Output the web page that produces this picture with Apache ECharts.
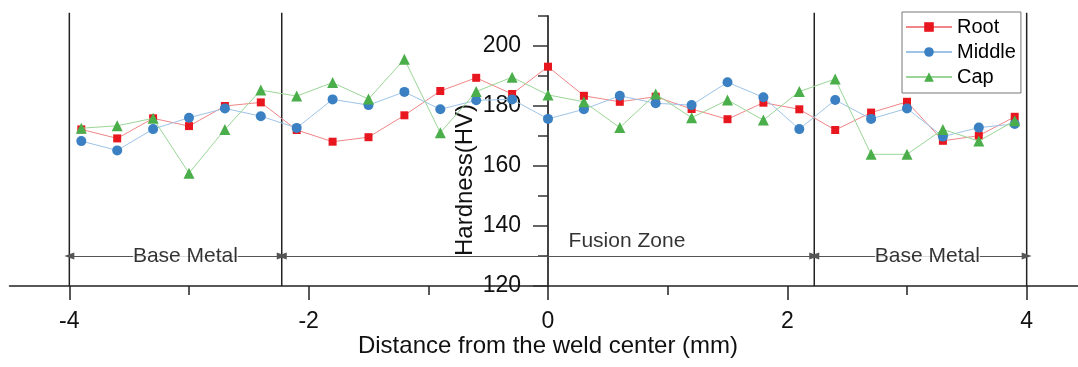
<!DOCTYPE html>
<html>
<head>
<meta charset="utf-8">
<script src="https://cdn.jsdelivr.net/npm/echarts@6/dist/echarts.min.js"></script>
<style>
  html, body { margin: 0; padding: 0; background: #fff; }
  #chart { width: 1078px; height: 367px; }
</style>
</head>
<body>
<div id="chart"></div>
<script>
// Measurement positions across the weld (mm from the weld centre)
const distance = [-3.9, -3.6, -3.3, -3.0, -2.7, -2.4, -2.1, -1.8, -1.5, -1.2, -0.9, -0.6, -0.3, 0,
                  0.3, 0.6, 0.9, 1.2, 1.5, 1.8, 2.1, 2.4, 2.7, 3.0, 3.3, 3.6, 3.9];

// Vickers hardness for each pass
const root   = [172.2, 169.2, 175.9, 173.3, 180.0, 181.2, 172.0, 168.1, 169.6, 176.9, 185.0, 189.4, 184.0, 193.1,
                183.4, 181.4, 183.1, 179.0, 175.6, 181.1, 178.9, 172.0, 177.8, 181.4, 168.4, 170.1, 176.4];
const middle = [168.3, 165.2, 172.3, 176.1, 179.2, 176.6, 172.7, 182.2, 180.3, 184.7, 178.9, 181.9, 182.2, 175.7,
                178.9, 183.4, 180.9, 180.3, 187.9, 182.9, 172.3, 182.0, 175.7, 179.2, 169.8, 172.8, 174.0];
const cap    = [172.6, 173.4, 175.9, 157.6, 172.2, 185.3, 183.3, 187.8, 182.3, 195.6, 171.1, 184.8, 189.6, 183.7,
                181.4, 172.8, 184.0, 176.1, 182.0, 175.3, 184.8, 189.0, 163.9, 163.9, 172.2, 168.3, 175.1];

// Axis ticks
const xMajorTicks = [-4, -2, 0, 2, 4];
const xMinorTicks = [-3, -1, 1, 3];
const yMajorTicks = [120, 140, 160, 180, 200];
const yMinorTicks = [130, 150, 170, 190, 210];

// Zone boundaries (mm) and their names
const zoneEdges = [-4, -2.225, 2.225, 4];
const zoneNames = ['Base Metal', 'Fusion Zone', 'Base Metal'];

// Where the zone names sit, in data units
const zoneLabelX = [-3.03, 0.66, 3.17];
const zoneLabelY = [130, 135, 130];
const arrowLevel = 130;
const edgeTop = 211.1;

// The hardness axis is drawn at this distance
const yAxisAt = 0;

const FONT = '"Liberation Sans", Arial, sans-serif';
const pairs = vals => distance.map((d, i) => [d, vals[i]]);

const chart = echarts.init(document.getElementById('chart'), null, { renderer: 'canvas' });

// vertical zone boundaries, drawn as plain two-point lines
const boundarySeries = zoneEdges.map(x => ({
  type: 'line', silent: true, clip: false, symbol: 'none',
  data: [[x, 120], [x, edgeTop]],
  lineStyle: { color: '#222', width: 1.5 },
  z: 1
}));

const arrowLines = zoneEdges.slice(0, -1).map((x, i) => [{ coord: [x, arrowLevel] }, { coord: [zoneEdges[i + 1], arrowLevel] }]);

const option = {
  animation: false,
  backgroundColor: '#fff',
  grid: { left: 9.5, right: -8.5, top: 16, bottom: 81, containLabel: false, outerBoundsMode: 'none' },
  legend: {
    orient: 'vertical',
    left: 902,
    top: 12,
    padding: [5, 5, 6, 3],
    itemGap: 5,
    itemWidth: 46,
    itemHeight: 12,
    borderColor: '#777',
    borderWidth: 1,
    backgroundColor: '#fff',
    textStyle: { fontFamily: FONT, fontSize: 20, color: '#000', lineHeight: 20 },
    data: ['Root', 'Middle', 'Cap']
  },
  xAxis: [
    {
      type: 'value', min: -4.5, max: 4.5, position: 'bottom',
      name: 'Distance from the weld center (mm)',
      nameLocation: 'middle', nameGap: 48, nameMoveOverlap: false,
      nameTextStyle: { fontFamily: FONT, fontSize: 24, color: '#111' },
      axisLine: { onZero: false, lineStyle: { color: '#222', width: 1.5 } },
      axisTick: { show: true, customValues: xMajorTicks, length: 14, lineStyle: { color: '#222', width: 1.5 } },
      axisLabel: { customValues: xMajorTicks, margin: 24, fontFamily: FONT, fontSize: 23, color: '#111' },
      splitLine: { show: false }
    },
    {
      type: 'value', min: -4.5, max: 4.5, position: 'bottom',
      axisLine: { show: false, onZero: false },
      axisTick: { show: true, customValues: xMinorTicks, length: 9, lineStyle: { color: '#222', width: 1.5 } },
      axisLabel: { show: false },
      splitLine: { show: false }
    }
  ],
  yAxis: [
    {
      type: 'value', min: 120, max: 210, position: 'left',
      name: 'Hardness(HV)',
      nameLocation: 'middle', nameGap: 71, nameRotate: 90, nameMoveOverlap: false,
      nameTextStyle: { fontFamily: FONT, fontSize: 24, color: '#111', padding: [0, 58, 0, 0] },
      axisLine: { onZero: false, lineStyle: { color: '#444', width: 2 } },
      axisTick: { show: true, customValues: yMajorTicks, length: 15, lineStyle: { color: '#333', width: 1.5 } },
      axisLabel: { customValues: yMajorTicks, margin: 27, fontFamily: FONT, fontSize: 23, color: '#111' },
      splitLine: { show: false }
    },
    {
      type: 'value', min: 120, max: 210, position: 'left',
      axisLine: { show: false, onZero: false },
      axisTick: { show: true, customValues: yMinorTicks, length: 10, lineStyle: { color: '#333', width: 1.5 } },
      axisLabel: { show: false },
      splitLine: { show: false }
    }
  ],
  series: boundarySeries.concat([
    {
      // dimension arrows spanning each zone
      type: 'line', data: [], clip: false, silent: true,
      markLine: {
        silent: true, animation: false,
        symbol: ['triangle', 'triangle'],
        symbolSize: [7, 10],
        label: { show: false },
        lineStyle: { type: 'solid', color: '#555', width: 1 },
        itemStyle: { color: '#000' },
        data: arrowLines
      }
    },
    {
      name: 'Root', type: 'line', data: pairs(root),
      symbol: 'rect', symbolSize: 8,
      itemStyle: { color: '#e8161e' },
      lineStyle: { color: '#f08688', width: 1 },
      z: 3
    },
    {
      name: 'Middle', type: 'line', data: pairs(middle),
      symbol: 'circle', symbolSize: 10,
      itemStyle: { color: '#3a80c2' },
      lineStyle: { color: '#9ec4e8', width: 1 },
      z: 4
    },
    {
      name: 'Cap', type: 'line', data: pairs(cap),
      symbol: 'triangle', symbolSize: 11,
      itemStyle: { color: '#4aae4a' },
      lineStyle: { color: '#9ad697', width: 1 },
      z: 5
    },
    {
      // zone names
      type: 'scatter', silent: true, clip: false,
      symbolSize: 0,
      data: zoneLabelX.map((x, i) => [x, zoneLabelY[i]]),
      label: {
        show: true, position: 'inside',
        formatter: p => zoneNames[p.dataIndex],
        fontFamily: FONT, fontSize: 21, color: '#000',
        backgroundColor: '#fff', padding: [0, 0, 0, 0]
      },
      z: 6
    }
  ])
};

chart.setOption(option);

// Move the hardness axis from the grid's left edge to x = yAxisAt, using the x scale
const leftEdgePx = chart.convertToPixel({ xAxisIndex: 0 }, -4.5);
const axisPx = chart.convertToPixel({ xAxisIndex: 0 }, yAxisAt);
const shift = leftEdgePx - axisPx;
chart.setOption({ yAxis: [{ offset: shift }, { offset: shift }] });
</script>
</body>
</html>
